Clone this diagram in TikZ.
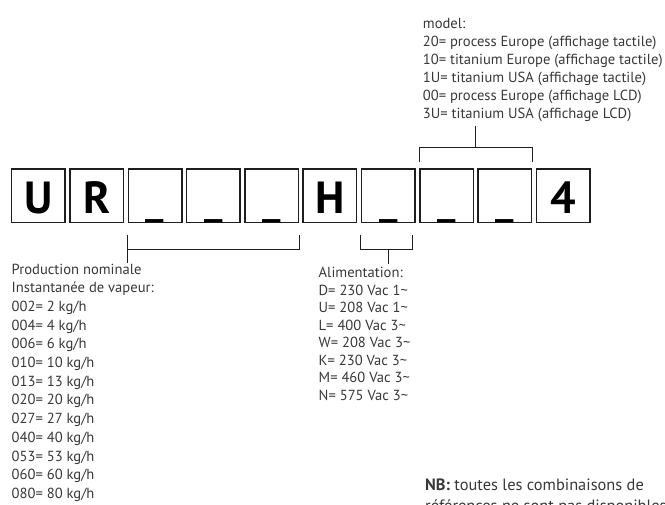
\documentclass[tikz,border=0pt]{standalone}
\usepackage{fontspec}
\setmainfont{PT Sans}
\usepackage{xcolor}
\usepackage{tikz}
\usetikzlibrary{calc,positioning}
\definecolor{inkx}{HTML}{1E1E1E}
\definecolor{textx}{HTML}{383838}
\tikzset{
  cell/.style={draw=inkx,line width=1.5pt,minimum width=53.5pt,minimum height=53.3pt,inner sep=0pt,
    text height=44.3pt,text depth=9pt,font=\fontsize{45}{45}\selectfont\bfseries},
  brk/.style={line width=0.9pt,inkx},
  lst/.style={anchor=north west,align=left,inner sep=0pt,textx,font=\fontsize{14.6}{17.5}\selectfont}
}
\newcommand{\blank}{\textmd{\_}}

\begin{document}
\begin{tikzpicture}[x=1pt,y=-1pt]
\useasboundingbox (0,0) rectangle (665,505);
\clip (0,0) rectangle (665,505);
% code cells
\foreach \l [count=\i] in {U,R,\blank,\blank,\blank,H,\blank,\blank,\blank,4}
  \node[cell] (c\i) at ({38.45+58.3*(\i-1)},195.65) {\l};
% texts
\node[lst,font=\fontsize{14.6}{18}\selectfont] (mdl) at (422.7,18.5) {model:\\20= process Europe (affichage tactile)\\10= titanium Europe (affichage tactile)\\1U= titanium USA (affichage tactile)\\00= process Europe (affichage LCD)\\3U= titanium USA (affichage LCD)};
\node[lst,font=\fontsize{14.6}{18.7}\selectfont] (prod) at (11.5,263.5) {Production nominale\\Instantanée de vapeur:\\002= 2 kg/h\\004= 4 kg/h\\006= 6 kg/h\\010= 10 kg/h\\013= 13 kg/h\\020= 20 kg/h\\027= 27 kg/h\\040= 40 kg/h\\053= 53 kg/h\\060= 60 kg/h\\080= 80 kg/h};
\node[lst] (alim) at (318.5,267) {Alimentation:\\D= 230 Vac 1\textasciitilde\\U= 208 Vac 1\textasciitilde\\L= 400 Vac 3\textasciitilde\\W= 208 Vac 3\textasciitilde\\K= 230 Vac 3\textasciitilde\\M= 460 Vac 3\textasciitilde\\N= 575 Vac 3\textasciitilde};
\node[lst,font=\fontsize{16.4}{20.5}\selectfont] (nb) at (425,479) {\textbf{NB:} toutes les combinaisons de\\références ne sont pas disponibles};
% brackets
\coordinate (t1) at ($([yshift=20.7pt]c8.north west)!0.5!([yshift=20.7pt]c9.north east)$);
\coordinate (t2) at (t1 |- 0,126);
\draw[brk] ([yshift=6.7pt]c8.north west) -- ([yshift=20.7pt]c8.north west) -- ([yshift=20.7pt]c9.north east) -- ([yshift=6.7pt]c9.north east);
\draw[brk] (t1) -- (t2);
\coordinate (s1) at ([yshift=-39.7pt]c3.south west);
\draw[brk] ([yshift=-11.7pt]c3.south west) -- (s1);
\draw[brk] ([yshift=-26pt]c3.south west) -- ([yshift=-26pt]c5.south east) -- ([yshift=-11.7pt]c5.south east);
\coordinate (s2) at ([yshift=-26.7pt]c7.south);
\coordinate (s3) at ([yshift=-40.7pt]c7.south);
\draw[brk] ([yshift=-11.7pt]c7.south west) -- ([yshift=-26.7pt]c7.south west) -- ([xshift=-3pt,yshift=-26.7pt]c7.south east) -- ([xshift=-3pt,yshift=-11.7pt]c7.south east);
\draw[brk] (s2) -- (s3);
\end{tikzpicture}
\end{document}
